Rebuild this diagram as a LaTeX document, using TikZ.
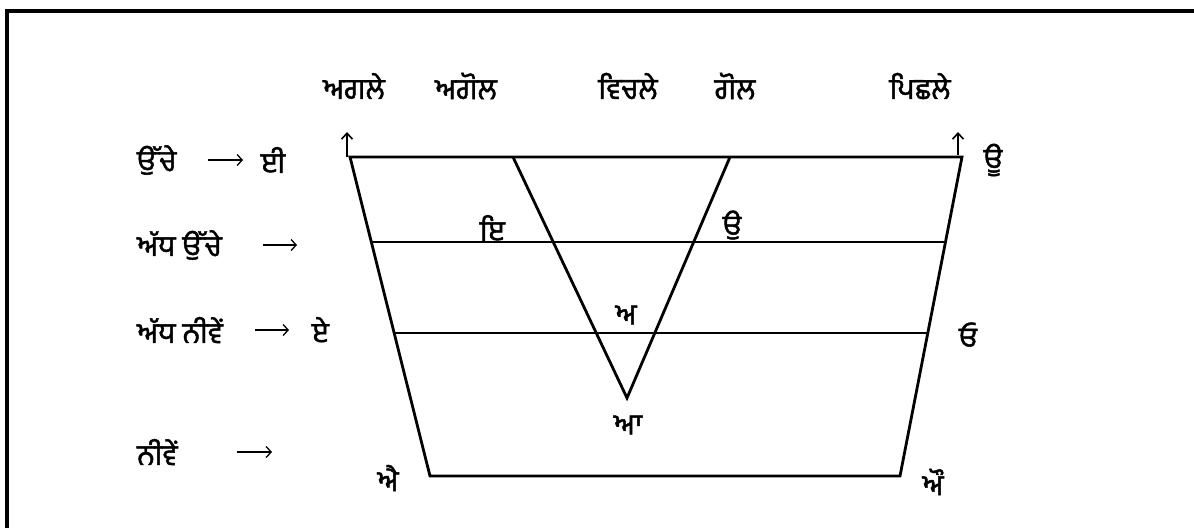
\documentclass[tikz,border=0pt]{standalone}
\usepackage{fontspec}
\newfontfamily\gur[Script=Gurmukhi,FakeBold=1.6]{Hind Jalandhar}
\usetikzlibrary{arrows.meta}
\begin{document}
\begin{tikzpicture}[x=1pt,y=-1pt,
  lbl/.style={inner sep=0pt,font=\gur\fontsize{29}{33}\selectfont},
  thick line/.style={line width=2.8pt,line join=miter},
  frame/.style={line width=3.5pt},
  txtarrow/.style={line width=1.3pt,-{Straight Barb[length=5pt,width=11pt,line width=1.3pt]}},
  uparrow/.style={line width=1.8pt,-{Straight Barb[length=6pt,width=11pt,line width=1.6pt]}}]
\useasboundingbox (0,0) rectangle (1194,528);
% frame
\coordinate (F1) at (7,528);
\coordinate (F2) at (7,11);
\coordinate (F3) at (1194,11);
\draw[frame] (F1) -- (F2) -- (F3);
% trapezoid corners
\coordinate (TL) at (350,157);
\coordinate (TR) at (962,157);
\coordinate (BL) at (430,476);
\coordinate (BR) at (900,476);
\coordinate (ML1) at (371,242);
\coordinate (MR1) at (945,242);
\coordinate (ML2) at (394,333);
\coordinate (MR2) at (928,333);
\coordinate (I1) at (513,157);
\coordinate (I2) at (730,157);
\coordinate (V) at (627,398);
\draw[thick line] (TL) -- (TR) -- (BR) -- (BL) -- cycle;
\draw[thick line] (ML1) -- (MR1);
\draw[thick line] (ML2) -- (MR2);
\draw[thick line] (I1) -- (V) -- (I2);
% up arrows
\coordinate (UA1) at (347,157);
\coordinate (UA2) at (347,132);
\coordinate (UB1) at (958,155);
\coordinate (UB2) at (958,132);
\draw[uparrow] (UA1) -- (UA2);
\draw[uparrow] (UB1) -- (UB2);
% top labels
\node[lbl] (t1) at (354,86) {ਅਗਲੇ};
\node[lbl] (t2) at (466,86) {ਅਗੋਲ};
\node[lbl] (t3) at (628,86) {ਵਿਚਲੇ};
\node[lbl] (t4) at (735,86) {ਗੋਲ};
\node[lbl] (t5) at (920,86) {ਪਿਛਲੇ};
% left labels
\node[lbl,anchor=west] (l1) at (137,160) {ਉੱਚੇ};
\node[lbl] (l1b) at (273,160) {ਈ};
\node[lbl,anchor=west] (l2) at (137,245) {ਅੱਧ ਉੱਚੇ};
\node[lbl,anchor=west] (l3) at (137,330) {ਅੱਧ ਨੀਵੇਂ};
\node[lbl] (l3b) at (320,330) {ਏ};
\node[lbl,anchor=west] (l4) at (137,452) {ਨੀਵੇਂ};
% text arrows
\coordinate (a1s) at (208,160); \coordinate (a1e) at (243,160);
\coordinate (a2s) at (263,245); \coordinate (a2e) at (297,245);
\coordinate (a3s) at (255,330); \coordinate (a3e) at (289,330);
\coordinate (a4s) at (237,452); \coordinate (a4e) at (272,452);
\draw[txtarrow] (a1s) -- (a1e);
\draw[txtarrow] (a2s) -- (a2e);
\draw[txtarrow] (a3s) -- (a3e);
\draw[txtarrow] (a4s) -- (a4e);
% vowel labels
\node[lbl] (vai) at (388,478) {ਐ};
\node[lbl] (vau) at (933,482) {ਔ};
\node[lbl] (vo) at (968,335) {ਓ};
\node[lbl] (vuu) at (993,160) {ਊ};
\node[lbl] (vi) at (492,228) {ਇ};
\node[lbl] (vu) at (732,225) {ਉ};
\node[lbl] (va) at (626,315) {ਅ};
\node[lbl] (vaa) at (628,425) {ਆ};
\end{tikzpicture}
\end{document}
